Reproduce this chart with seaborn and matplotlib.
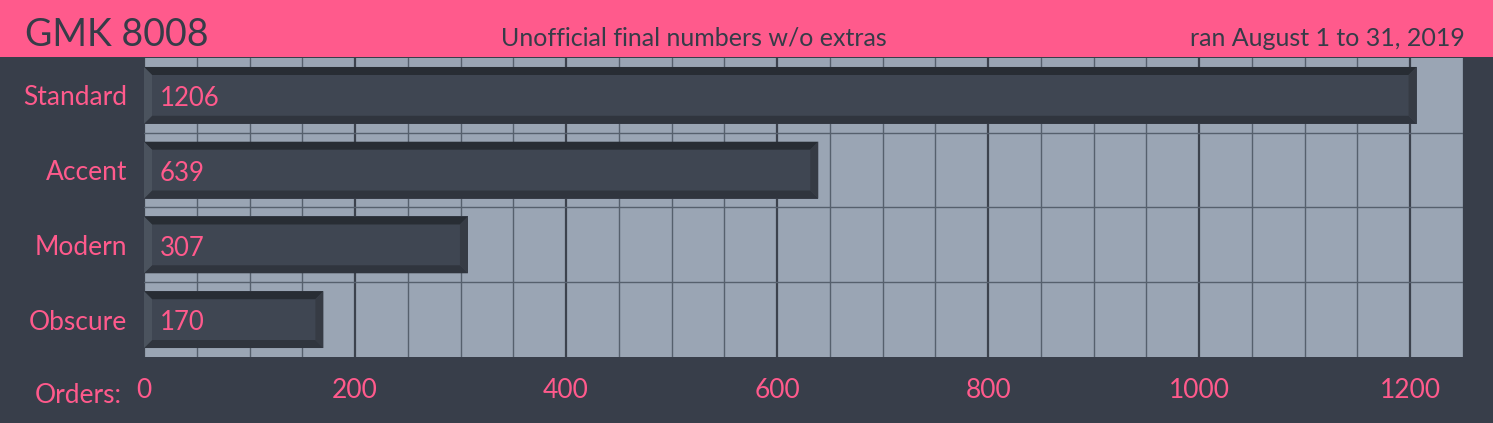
import matplotlib
matplotlib.use('Agg')
import matplotlib.pyplot as plt
from matplotlib.patches import Polygon, Rectangle
from matplotlib.ticker import MultipleLocator
import seaborn as sns
import pandas as pd

# data
kits = ['Standard', 'Accent', 'Modern', 'Obscure']
orders = [1206, 639, 307, 170]
x_ticks = [0, 200, 400, 600, 800, 1000, 1200]

title = 'GMK 8008'
subtitle = 'Unofficial final numbers w/o extras'
run_dates = 'ran August 1 to 31, 2019'

# colours
pink = '#ff5a8c'
bg = '#383e4a'
plot_bg = '#9aa5b4'
face = '#3f4652'
dark_txt = '#363c48'

sns.set_style('white')
plt.rcParams['font.family'] = ['Lato', 'DejaVu Sans']

df = pd.DataFrame({'kit': kits, 'orders': orders})

fig = plt.figure(figsize=(14.93, 4.23), dpi=100, facecolor=bg)
ax = fig.add_axes([144 / 1493, 66 / 423, 1319 / 1493, 299 / 423])
ax.set_facecolor(plot_bg)

sns.barplot(data=df, x='orders', y='kit', orient='h', color=face,
            saturation=1, width=0.76, linewidth=0, edgecolor='none',
            ax=ax, zorder=3)

ax.set_xlim(0, 1250)
ax.set_ylim(3.5, -0.5)

# grid lines
ax.xaxis.set_major_locator(MultipleLocator(200))
ax.xaxis.set_minor_locator(MultipleLocator(50))
ax.grid(which='minor', axis='x', color='#56606d', lw=1, zorder=1)
ax.grid(which='major', axis='x', color='#3c424d', lw=1.6, zorder=1)
for yy in [0.5, 1.5, 2.5]:
    ax.axhline(yy, color='#56606d', lw=1, zorder=1)

# bevel edges on each bar
bx = 8 * 1250 / 1319
by = 8 * 4 / 299
for p, val in zip(ax.patches, orders):
    x0, y0 = p.get_x(), p.get_y()
    x1, y1 = x0 + p.get_width(), y0 + p.get_height()
    # y axis inverted: y0 is top visually
    top = [(x0, y0), (x1, y0), (x1 - bx, y0 + by), (x0 + bx, y0 + by)]
    bot = [(x0, y1), (x1, y1), (x1 - bx, y1 - by), (x0 + bx, y1 - by)]
    left = [(x0, y0), (x0 + bx, y0 + by), (x0 + bx, y1 - by), (x0, y1)]
    right = [(x1, y0), (x1 - bx, y0 + by), (x1 - bx, y1 - by), (x1, y1)]
    for pts, c in [(top, '#282d34'), (bot, '#30353e'),
                   (left, '#4b535e'), (right, '#363b44')]:
        ax.add_patch(Polygon(pts, closed=True, facecolor=c, edgecolor='none', zorder=4))
    ax.text(x0 + 15, y0 + p.get_height() / 2 + 0.01, str(val), color=pink,
            fontsize=18.5, va='center_baseline', ha='left', zorder=5)

for s in ax.spines.values():
    s.set_visible(False)

ax.set_xticks(x_ticks)
ax.set_xlabel('')
ax.set_ylabel('')
ax.tick_params(axis='both', which='both', length=0, colors=pink, labelsize=19)
ax.tick_params(axis='x', pad=15)
ax.tick_params(axis='y', pad=12)

fig.text(35 / 1493, 1 - 393 / 423, 'Orders:', color=pink, fontsize=19,
         ha='left', va='center_baseline')

# header band
fig.patches.append(Rectangle((0, 1 - 57 / 423), 1, 57 / 423, transform=fig.transFigure,
                             facecolor=pink, edgecolor='none', zorder=0))
fig.text(25 / 1493, 1 - 32 / 423, title, color=dark_txt, fontsize=27,
         ha='left', va='center_baseline')
fig.text(694 / 1493, 1 - 36 / 423, subtitle, color=dark_txt, fontsize=18,
         ha='center', va='center_baseline')
fig.text(1465 / 1493, 1 - 36 / 423, run_dates, color=dark_txt, fontsize=18,
         ha='right', va='center_baseline')

fig.savefig('out.png', dpi=100, facecolor=bg)
